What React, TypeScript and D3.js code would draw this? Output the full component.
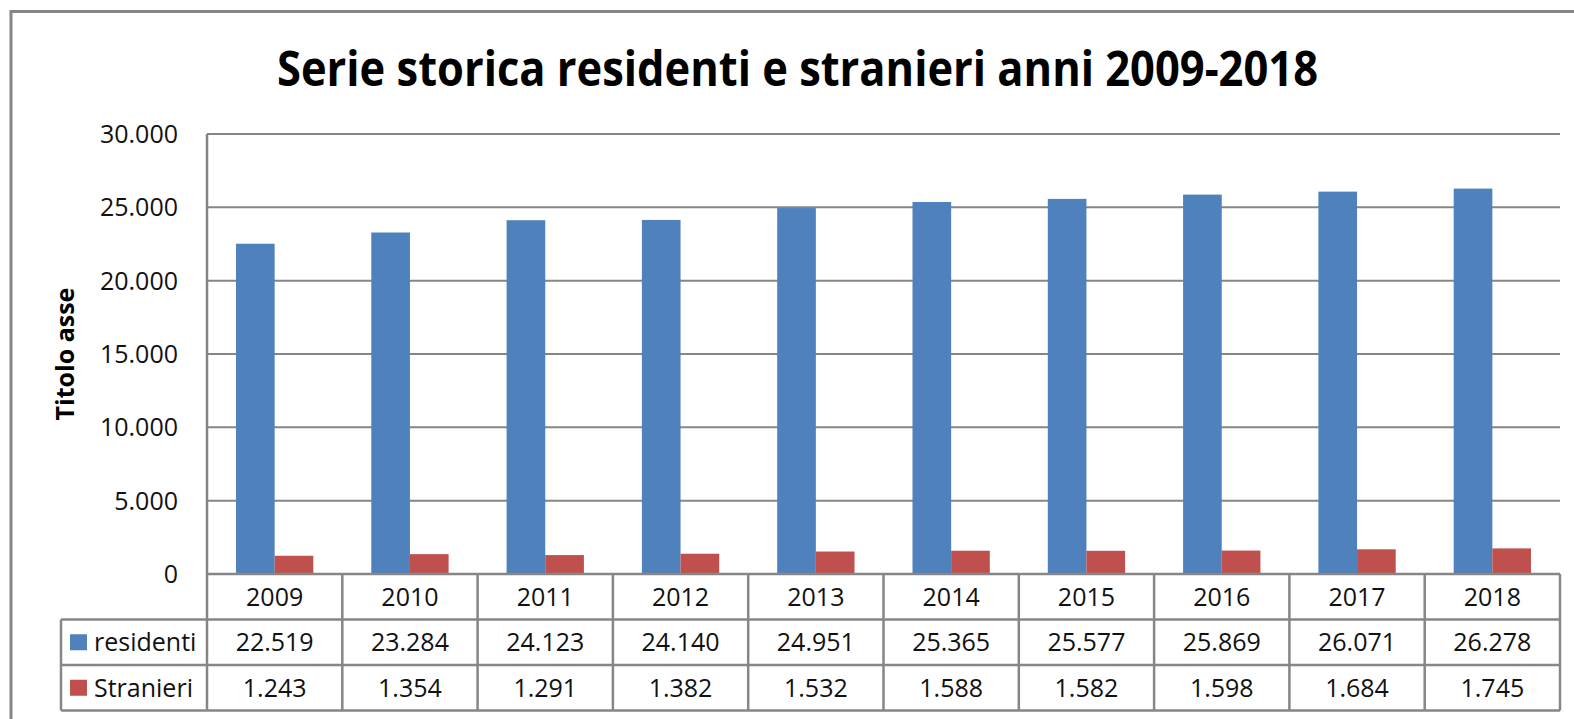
import * as d3 from "d3";
import { useEffect, useRef } from "react";

const years = ["2009", "2010", "2011", "2012", "2013", "2014", "2015", "2016", "2017", "2018"];
const residenti = [22519, 23284, 24123, 24140, 24951, 25365, 25577, 25869, 26071, 26278];
const stranieri = [1243, 1354, 1291, 1382, 1532, 1588, 1582, 1598, 1684, 1745];
const seriesNames = ["residenti", "Stranieri"];
const yTicks = [0, 5000, 10000, 15000, 20000, 25000, 30000];

export default function App() {
    const ref = useRef<SVGSVGElement>(null);

    useEffect(() => {
        const svg = d3.select(ref.current);
        svg.selectAll("*").remove();

        const width = 1574;
        const height = 719;
        const plot = { left: 207, right: 1560, top: 134, bottom: 574 };
        const rowH = 45.5;
        const legendLeft = 61;
        const grid = "#868686";
        const font = "'Open Sans', 'DejaVu Sans', sans-serif";
        const fs = 25;

        svg.attr("width", width).attr("height", height);

        const it = d3.formatLocale({ decimal: ",", thousands: ".", grouping: [3], currency: ["€", ""] });
        const fmt = it.format(",d");

        const color = d3.scaleOrdinal<string>().domain(seriesNames).range(["#4F81BD", "#C0504D"]);
        const values: Record<string, number[]> = { residenti, Stranieri: stranieri };

        const x = d3.scaleBand().domain(years).range([plot.left, plot.right]).padding(0);
        const xs = d3.scaleBand().domain(seriesNames).range([0, x.bandwidth()]).paddingInner(0).paddingOuter(0.75);
        const y = d3.scaleLinear().domain([0, 30000]).range([plot.bottom, plot.top]);

        // outer chart frame (runs off the right/bottom of the picture)
        svg.append("rect")
            .attr("x", 11).attr("y", 11.5)
            .attr("width", width + 20).attr("height", height + 20)
            .attr("fill", "white").attr("stroke", grid).attr("stroke-width", 3);

        // Title
        svg.append("text")
            .attr("x", 797.5).attr("y", 86)
            .attr("text-anchor", "middle")
            .attr("font-family", font).attr("font-weight", "bold").attr("font-size", 48)
            .attr("textLength", 1041).attr("lengthAdjust", "spacingAndGlyphs")
            .text("Serie storica residenti e stranieri anni 2009-2018");

        // gridlines
        svg.append("g")
            .selectAll("line")
            .data(yTicks.filter(t => t > 0))
            .join("line")
            .attr("x1", plot.left).attr("x2", plot.right)
            .attr("y1", d => y(d)).attr("y2", d => y(d))
            .attr("stroke", grid).attr("stroke-width", 2);

        // y tick labels
        svg.append("g")
            .selectAll("text")
            .data(yTicks)
            .join("text")
            .attr("x", 178).attr("y", d => y(d))
            .attr("dy", "0.36em")
            .attr("text-anchor", "end")
            .attr("font-family", font).attr("font-size", fs)
            .attr("fill", "#111")
            .text(d => fmt(d));

        // axis title
        svg.append("text")
            .attr("transform", `translate(74,${(plot.top + plot.bottom) / 2}) rotate(-90)`)
            .attr("text-anchor", "middle")
            .attr("font-family", font).attr("font-weight", "bold").attr("font-size", 25)
            .text("Titolo asse");

        // Bars
        svg.append("g")
            .selectAll("g")
            .data(seriesNames)
            .join("g")
            .attr("fill", d => color(d))
            .selectAll("rect")
            .data(k => values[k].map((v, i) => ({ key: k, year: years[i], v })))
            .join("rect")
            .attr("x", d => (x(d.year) ?? 0) + (xs(d.key) ?? 0))
            .attr("y", d => y(d.v))
            .attr("width", xs.bandwidth())
            .attr("height", d => y(0) - y(d.v));

        // Data table
        const table = svg.append("g").attr("stroke", grid).attr("stroke-width", 2.5);
        const rowY = [plot.bottom, plot.bottom + rowH, plot.bottom + 2 * rowH, plot.bottom + 3 * rowH];

        table.append("line")
            .attr("x1", plot.left).attr("x2", plot.right)
            .attr("y1", rowY[0]).attr("y2", rowY[0]);
        table.selectAll("line.h")
            .data(rowY.slice(1))
            .join("line")
            .attr("class", "h")
            .attr("x1", legendLeft).attr("x2", plot.right)
            .attr("y1", d => d).attr("y2", d => d);
        table.append("line")
            .attr("x1", plot.left).attr("x2", plot.left)
            .attr("y1", plot.top).attr("y2", rowY[3]);
        table.append("line")
            .attr("x1", legendLeft).attr("x2", legendLeft)
            .attr("y1", rowY[1]).attr("y2", rowY[3]);
        table.selectAll("line.v")
            .data(years)
            .join("line")
            .attr("class", "v")
            .attr("x1", d => (x(d) ?? 0) + x.bandwidth())
            .attr("x2", d => (x(d) ?? 0) + x.bandwidth())
            .attr("y1", rowY[0]).attr("y2", rowY[3]);

        const cellText = (g: any) => g
            .attr("text-anchor", "middle")
            .attr("dy", "0.36em")
            .attr("font-family", font).attr("font-size", fs)
            .attr("fill", "#111");

        svg.append("g")
            .selectAll("text")
            .data(years)
            .join("text")
            .attr("x", d => (x(d) ?? 0) + x.bandwidth() / 2)
            .attr("y", (rowY[0] + rowY[1]) / 2)
            .call(cellText)
            .text(d => d);

        seriesNames.forEach((k, r) => {
            const cy = (rowY[r + 1] + rowY[r + 2]) / 2;
            svg.append("rect")
                .attr("x", 70).attr("y", cy - 8)
                .attr("width", 17).attr("height", 16)
                .attr("fill", color(k));
            svg.append("text")
                .attr("x", 94).attr("y", cy)
                .attr("dy", "0.36em")
                .attr("font-family", font).attr("font-size", fs)
                .attr("fill", "#111")
                .text(k);
            svg.append("g")
                .selectAll("text")
                .data(values[k])
                .join("text")
                .attr("x", (d, i) => (x(years[i]) ?? 0) + x.bandwidth() / 2)
                .attr("y", cy)
                .call(cellText)
                .text(d => fmt(d));
        });
    }, []);

    return (
        <div style={{ position: "absolute", left: 0, top: 0, width: 1574, height: 719, overflow: "hidden", background: "white" }}>
            <svg ref={ref} style={{ display: "block" }}></svg>
        </div>
    );
}
